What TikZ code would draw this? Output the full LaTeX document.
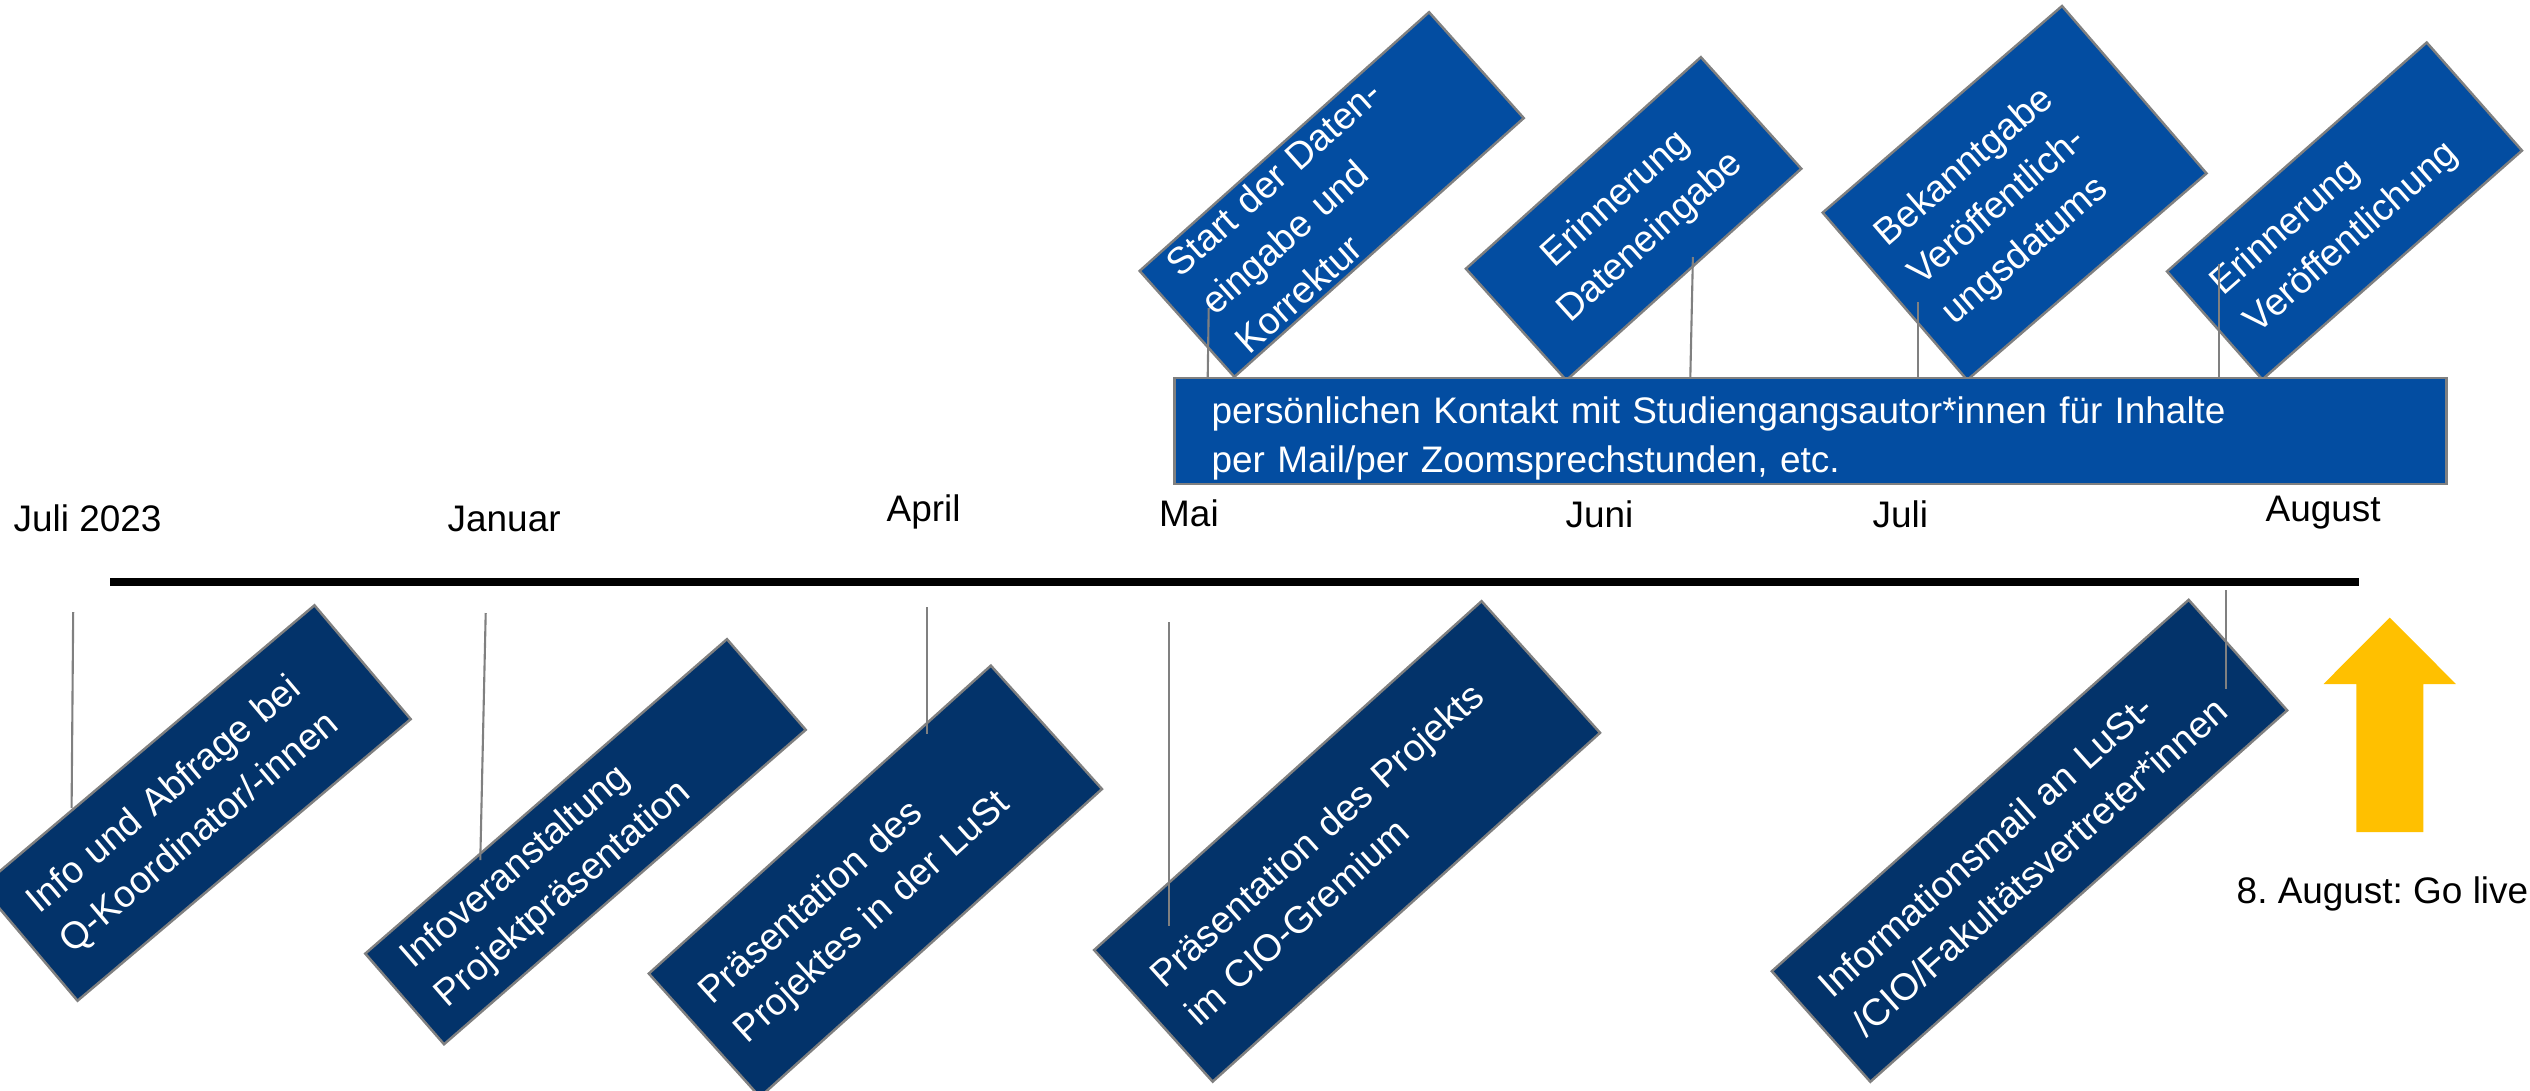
\documentclass[tikz,border=0pt]{standalone}
\usepackage{fontspec}
\setmainfont{Liberation Sans}
\definecolor{boxnavy}{RGB}{3,51,106}
\definecolor{boxblue}{RGB}{3,77,161}
\definecolor{arrowgold}{RGB}{255,192,0}
\frenchspacing

\begin{document}
\begin{tikzpicture}[x=0.01cm,y=-0.01cm,
    font=\fontsize{10.5}{13.9}\selectfont,
    task/.style={draw=gray,line width=0.7pt,text=white,align=left,inner xsep=0.26cm,inner ysep=0.01cm,
      font=\fontsize{10.7}{14.7}\selectfont},
    low/.style={task,fill=boxnavy},
    high/.style={task,fill=boxblue},
    conn/.style={draw=gray,line width=0.6pt},
    month/.style={anchor=base west,inner sep=0pt}]
  \useasboundingbox (0,0) rectangle (2530,1090);

  % upper row
  \node[high,rotate=41.8,minimum width=3.88cm,minimum height=1.42cm,text width=3.36cm] (start) at (1331.7,194.5) {Start der Daten-\\eingabe und\\Korrektur};
  \node[high,rotate=42,minimum width=3.16cm,minimum height=1.50cm,text width=2.64cm,align=center] (erinnDaten) at (1633.6,218.7) {Erinnerung\\Dateneingabe};
  \node[high,rotate=40.8,minimum width=3.16cm,minimum height=2.21cm,text width=2.64cm] (bekannt) at (2014.6,193) {Bekanntgabe\\Veröffentlich-\\ungsdatums};
  \node[high,rotate=41.4,minimum width=3.46cm,minimum height=1.44cm,text width=2.94cm] (erinnVer) at (2344.5,211) {Erinnerung\\Veröffentlichung};
  \node[high,minimum width=12.71cm,minimum height=1.06cm,text width=11.97cm,inner xsep=0.37cm,
    font=\fontsize{10.5}{13.9}\selectfont] (kontakt) at (1810.5,431) {\rule{0pt}{0.41cm}persönlichen Kontakt mit Studiengangsautor*innen für Inhalte\\per Mail/per Zoomsprechstunden, etc.};

  % lower row
  \node[low,rotate=40.2,minimum width=4.36cm,minimum height=1.49cm,text width=3.84cm] (info) at (196,803) {Info und Abfrage bei\\Q-Koordinator/-innen};
  \node[low,rotate=41,minimum width=4.79cm,minimum height=1.20cm,text width=4.27cm] (infoVer) at (585.5,841.7) {Infoveranstaltung\\Projektpräsentation};
  \node[low,rotate=42,minimum width=4.60cm,minimum height=1.66cm,text width=4.08cm] (praesLuSt) at (875.4,881.3) {Präsentation des\\Projektes in der LuSt};
  \node[low,rotate=42,minimum width=5.21cm,minimum height=1.77cm,text width=4.69cm] (praesCIO) at (1347.1,841.4) {Präsentation des Projekts\\im CIO-Gremium};
  \node[low,rotate=41.7,minimum width=5.58cm,minimum height=1.48cm,text width=5.06cm] (infomail) at (2029.5,840.8) {Informationsmail an LuSt-\\/CIO/Fakultätsvertreter*innen};

  % timeline
  \coordinate (tstart) at (110,582);
  \coordinate (tend) at (2359,582);
  \draw[line width=0.08cm] (tstart) -- (tend);

  \node[month] (juli23) at (13,531.5) {Juli 2023};
  \node[month] (januar) at (447,531.5) {Januar};
  \node[month] (april) at (886,521.5) {April};
  \node[month] (mai) at (1158.5,526.5) {Mai};
  \node[month] (juni) at (1565,527) {Juni};
  \node[month] (juli) at (1872,527) {Juli};
  \node[month] (august) at (2265,521) {August};

  % connectors
  \coordinate (c1a) at (73.2,612);   \coordinate (c1b) at (71.6,808);
  \coordinate (c2a) at (485.7,613);  \coordinate (c2b) at (480.3,860);
  \coordinate (c3a) at (927,607);    \coordinate (c3b) at (927,734);
  \coordinate (c4a) at (1169,622);   \coordinate (c4b) at (1169,926);
  \coordinate (c5a) at (2225.6,590); \coordinate (c5b) at (2225.6,689);
  \coordinate (t1a) at (1208.7,308); \coordinate (t1b) at (1207.7,378);
  \coordinate (t2a) at (1692.9,257); \coordinate (t2b) at (1690.3,378);
  \coordinate (t3a) at (1917.8,302); \coordinate (t3b) at (1917.8,378);
  \coordinate (t4a) at (2219,264);   \coordinate (t4b) at (2219,378);
  \path%
    (c1a) edge[conn] (c1b)
    (c2a) edge[conn] (c2b)
    (c3a) edge[conn] (c3b)
    (c4a) edge[conn] (c4b)
    (c5a) edge[conn] (c5b)
    (t1a) edge[conn] (t1b)
    (t2a) edge[conn] (t2b)
    (t3a) edge[conn] (t3b)
    (t4a) edge[conn] (t4b);

  % go live
  \fill[arrowgold] (2356.3,832) -- (2356.3,684) -- (2323.5,684) -- (2389.7,617.5)
    -- (2455.9,684) -- (2423.3,684) -- (2423.3,832) -- cycle;
  \node[month] (golive) at (2236,903) {8. August: Go live};
\end{tikzpicture}
\end{document}
